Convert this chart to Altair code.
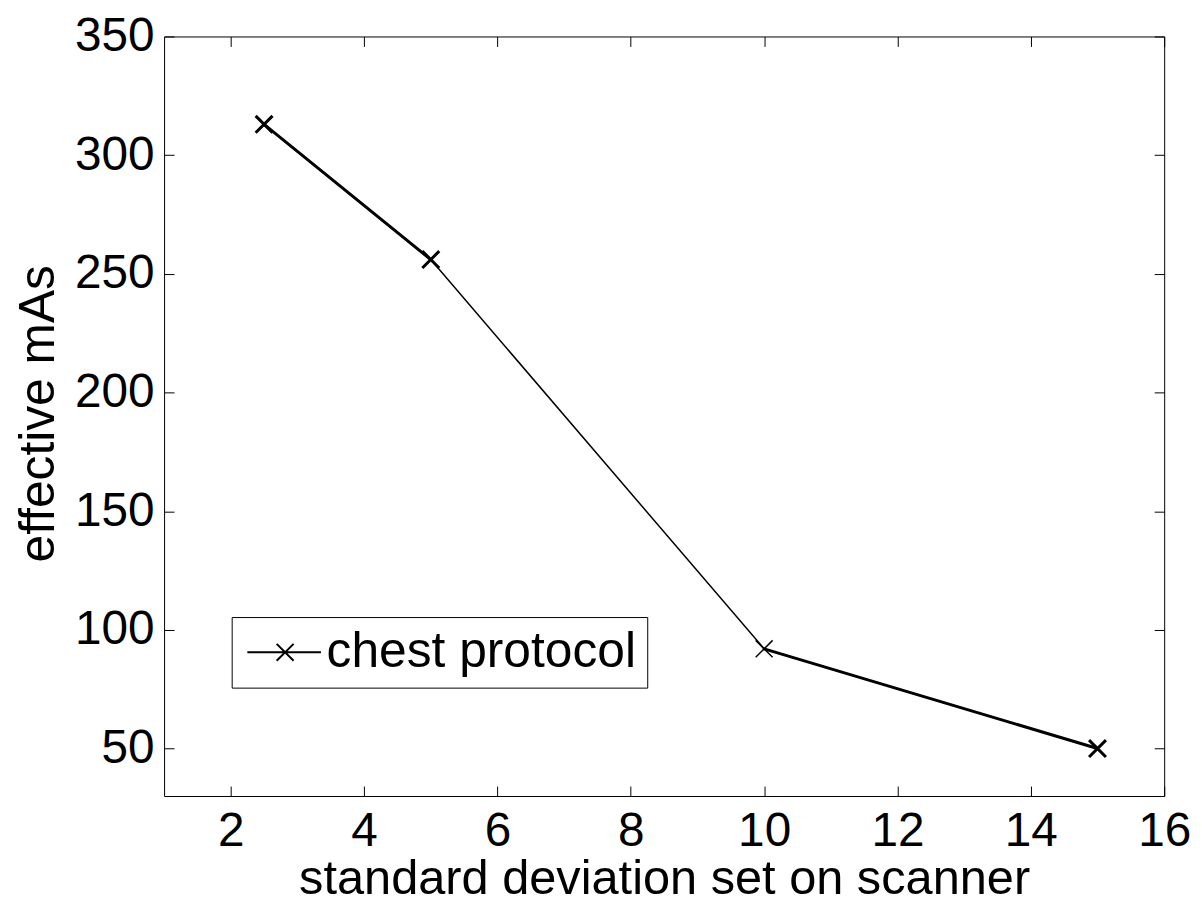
import altair as alt
import pandas as pd

# data
sd = [2.5, 5, 10, 15]
mas = [313, 256, 92, 50]
series_name = "chest protocol"
x_ticks = [2, 4, 6, 8, 10, 12, 14, 16]
y_ticks = [50, 100, 150, 200, 250, 300, 350]

# styling (per segment / marker line widths as rendered in the reference)
seg_width = [3, 1.5, 3]
marker_width = [3, 3, 1.5, 3]

FONT = "Liberation Sans"
W, H = 1006, 764
TICK = 10

pts = pd.DataFrame({"sd": sd, "mas": mas, "mw": marker_width})
segs = pd.DataFrame({
    "sd": sd[:-1], "sd2": sd[1:],
    "mas": mas[:-1], "mas2": mas[1:],
    "series": [series_name] * (len(sd) - 1),
    "sw": seg_width,
})

xscale = alt.Scale(domain=[1, 16], nice=False, zero=False)
yscale = alt.Scale(domain=[30, 350], nice=False, zero=False)

# label axes (no ticks)
x_bottom = alt.Axis(
    orient="bottom", values=x_ticks, grid=False, domain=False, ticks=False,
    labelFont=FONT, labelFontSize=48, labelColor="black", labelPadding=12,
    labelFlush=False, labelOverlap=False,
    title="standard deviation set on scanner", titleFont=FONT, titleFontSize=49,
    titleFontWeight="normal", titleColor="black", titleBaseline="alphabetic",
    titleY=98,
)
y_left = alt.Axis(
    orient="left", values=y_ticks, grid=False, domain=False, ticks=False,
    labelFont=FONT, labelFontSize=48, labelColor="black", labelPadding=10,
    labelFlush=False, labelOverlap=False,
    title="effective mAs", titleFont=FONT, titleFontSize=50,
    titleFontWeight="normal", titleColor="black", titleBaseline="alphabetic",
    titleAngle=270, titleX=-111, titleY=379, titleAlign="center",
)


def tick_axis(orient, values, offset):
    # axis flipped onto the opposite edge so its ticks point into the plot
    return alt.Axis(orient=orient, values=values, offset=offset, grid=False,
                    domain=False, tickSize=TICK, tickColor="black", tickWidth=1,
                    labels=False, title=None)


legend_symbol = "M-1.6,0L4.4,0M0.79,-0.69L2.17,0.69M0.79,0.69L2.17,-0.69"

lines = alt.Chart(segs).mark_rule(strokeCap="round").encode(
    x=alt.X("sd:Q", scale=xscale, axis=x_bottom),
    x2="sd2:Q",
    y=alt.Y("mas:Q", scale=yscale, axis=y_left),
    y2="mas2:Q",
    strokeWidth=alt.StrokeWidth("sw:Q", scale=None),
    color=alt.Color(
        "series:N",
        scale=alt.Scale(range=["black"]),
        legend=alt.Legend(
            orient="none", legendX=68, legendY=584, title=None,
            symbolType=legend_symbol, symbolSize=609, symbolStrokeWidth=2,
            symbolStrokeColor="black", symbolFillColor="transparent",
            labelFont=FONT, labelFontSize=50, labelColor="black",
            labelOffset=35, labelLimit=1000, padding=10.5,
            strokeColor="black", fillColor="white",
        ),
    ),
)

markers = alt.Chart(pts).mark_point(
    shape="M-1,-1L1,1M-1,1L1,-1", size=289, filled=False,
    stroke="black", opacity=1,
).encode(
    # ticks on bottom edge (pointing up) and left edge (pointing right)
    x=alt.X("sd:Q", scale=xscale, axis=tick_axis("top", x_ticks, -H)),
    y=alt.Y("mas:Q", scale=yscale, axis=tick_axis("right", y_ticks, -W)),
    strokeWidth=alt.StrokeWidth("mw:Q", scale=None),
)

mirror = alt.Chart(pts).mark_point(opacity=0).encode(
    # ticks on top edge (pointing down) and right edge (pointing left)
    x=alt.X("sd:Q", scale=xscale, axis=tick_axis("bottom", x_ticks, -H)),
    y=alt.Y("mas:Q", scale=yscale, axis=tick_axis("left", y_ticks, -W)),
)

chart = alt.layer(lines, markers, mirror).resolve_axis(
    x="independent", y="independent"
).properties(
    width=W, height=H,
    autosize=alt.AutoSizeParams(type="none"),
    padding={"left": 157, "top": 26, "right": 30, "bottom": 108},
    background="white",
).configure_view(stroke="black", strokeWidth=1)

chart.save("out.html", embed_options={"renderer": "svg", "actions": False})
